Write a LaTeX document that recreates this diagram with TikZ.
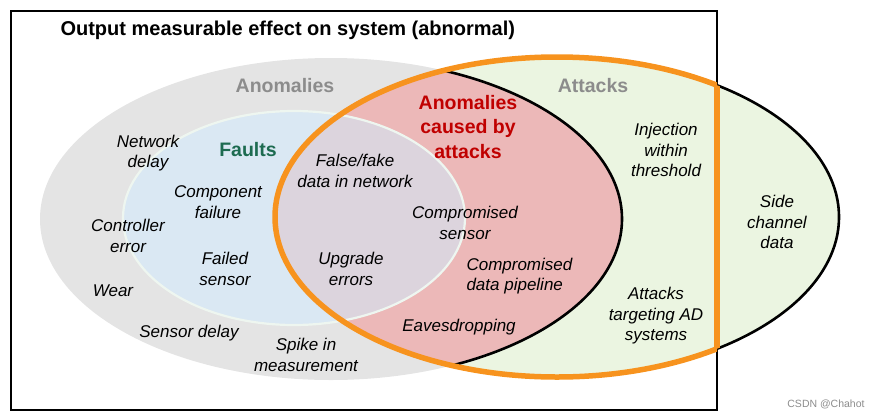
\documentclass[tikz,border=0pt]{standalone}
\usepackage{fontspec}
\setmainfont{Liberation Sans}
\usepackage{tikz}
\usetikzlibrary{positioning,calc,backgrounds}

\definecolor{anomgray}{HTML}{E4E4E4}
\definecolor{faultblue}{HTML}{DAE8F3}
\definecolor{overlap}{HTML}{DCD4DD}
\definecolor{causedfill}{HTML}{ECB8B8}
\definecolor{attackfill}{HTML}{EBF5E1}
\definecolor{edgeorange}{HTML}{F7931E}
\definecolor{edgemint}{HTML}{EEF6F0}
\definecolor{namegray}{HTML}{8C8C8C}
\definecolor{namegreen}{HTML}{1D6B50}
\definecolor{namered}{HTML}{C00000}

\begin{document}
\begin{tikzpicture}[x=1pt, y=-1pt,
  item/.style={align=center, font=\fontsize{17}{20.5}\selectfont\itshape},
  setname/.style={align=center, font=\fontsize{19.5}{24.5}\selectfont\bfseries}]
\useasboundingbox (0,0) rectangle (880,418);
\def\anom{(331,219) ellipse [x radius=291pt, y radius=161pt]}
\def\attk{(557,217) ellipse [x radius=282pt, y radius=160pt]}
\def\flts{(294,218) ellipse [x radius=171pt, y radius=107pt]}
%Outer box
\draw[line width=1.8pt] (11,11) rectangle (717,410);
\node[anchor=base west, font=\fontsize{20}{24}\selectfont\bfseries] (title) at (57,35) {Output measurable effect on system (abnormal)};
%Sets
\fill[anomgray] \anom;
\filldraw[fill=attackfill, draw=black, line width=2.6pt] \attk;
\begin{scope}
\clip \attk;
\filldraw[fill=causedfill, draw=black, line width=2.6pt] \anom;
\end{scope}
\fill[faultblue] \flts;
\begin{scope}
\clip \attk;
\fill[overlap] \flts;
\end{scope}
\draw[edgemint, line width=2.2pt] \flts;
%Orange border (attacks inside box)
\begin{scope}
\clip (11,11) rectangle (717,410);
\draw[edgeorange, line width=5.5pt] \attk;
\end{scope}
\begin{scope}
\clip \attk;
\draw[edgeorange, line width=5.5pt] (717,11) -- (717,410);
\end{scope}
%Set names
\node[setname, namegray] (anomalies) at (285,86) {Anomalies};
\node[setname, namegreen] (faults) at (248,150) {Faults};
\node[setname, namered] (caused) at (468,127) {Anomalies\\caused by\\attacks};
\node[setname, namegray] (attacks) at (593,86) {Attacks};
%Items
\node[item] (netdelay) at (148,153) {Network\\delay};
\node[item] (compfail) at (218,202) {Component\\failure};
\node[item] (ctrlerr) at (128,236) {Controller\\error};
\node[item] (failsens) at (225,269) {Failed\\sensor};
\node[item] (wear) at (113,291) {Wear};
\node[item] (sensdelay) at (189,333) {Sensor delay};
\node[item] (spike) at (306,355) {Spike in\\measurement};
\node[item] (fakedata) at (355,171) {False/fake\\data in network};
\node[item] (compsens) at (465,223) {Compromised\\sensor};
\node[item] (upgrade) at (351,269) {Upgrade\\errors};
\node[item, align=left, anchor=west] (pipeline) at (463,276) {Compromised\\data pipeline};
\node[item] (eaves) at (459,327) {Eavesdropping};
\node[item] (injection) at (666,150) {Injection\\within\\threshold};
\node[item] (targetad) at (656,316) {Attacks\\targeting AD\\systems};
\node[item] (sidechan) at (777,222) {Side\\channel\\data};
\node[font=\fontsize{10.5}{12}\selectfont, text=namegray] (mark) at (826,404) {CSDN @Chahot};
\end{tikzpicture}
\end{document}
